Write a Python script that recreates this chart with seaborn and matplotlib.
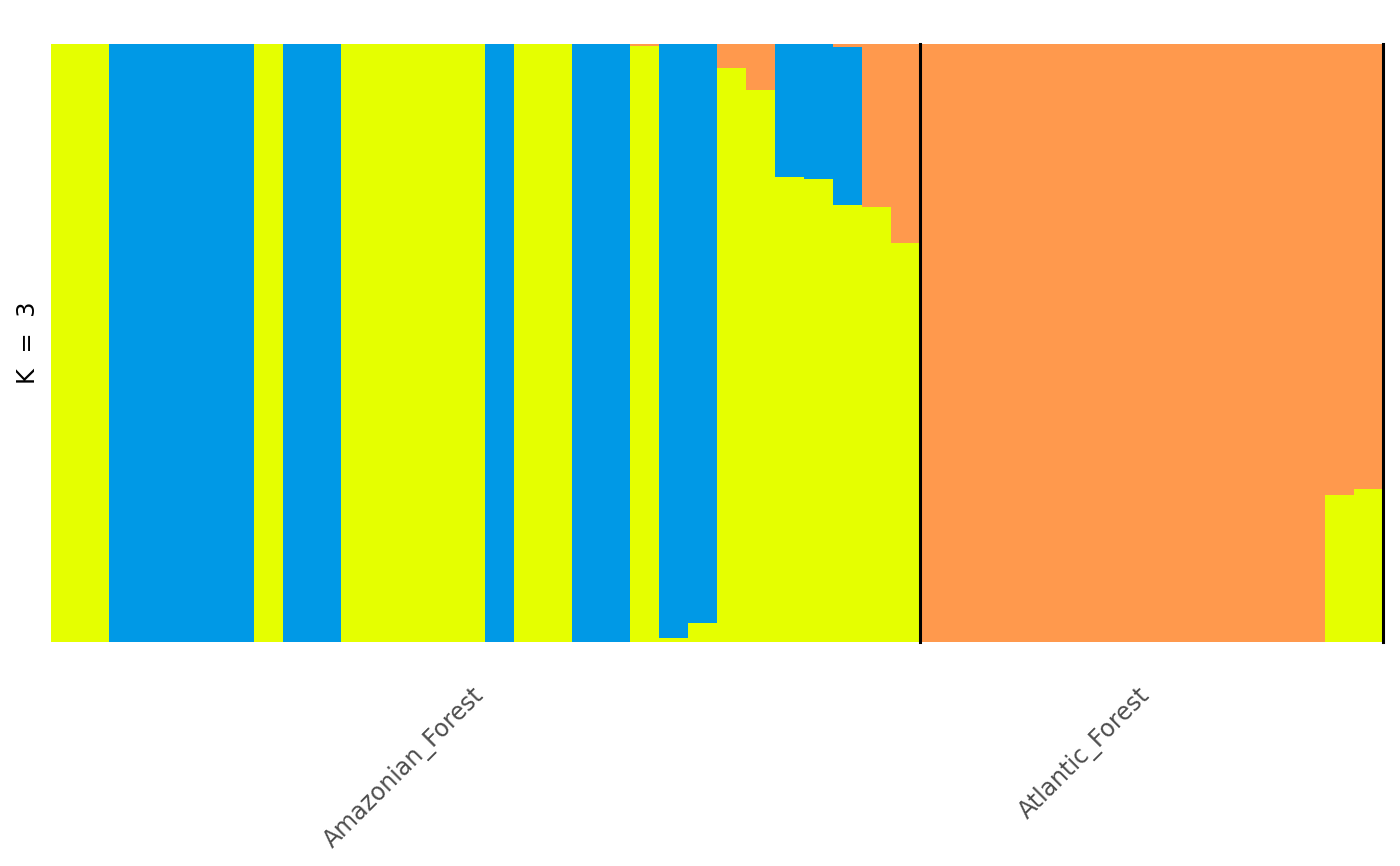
import numpy as np
import pandas as pd
import matplotlib
matplotlib.use('Agg')
import matplotlib.pyplot as plt
import matplotlib.transforms as mtransforms
import seaborn as sns

# admixture proportions per individual (K = 3)
groups = ['Amazonian_Forest'] * 30 + ['Atlantic_Forest'] * 16

yellow_q = [1, 1, 0, 0, 0, 0, 0, 1, 0, 0,
            1, 1, 1, 1, 1, 0, 1, 1, 0, 0,
            0.997, 0.007, 0.032, 0.96, 0.923, 0.777, 0.774, 0.731, 0.727, 0.668,
            0, 0, 0, 0, 0, 0, 0, 0, 0, 0,
            0, 0, 0, 0, 0.246, 0.256]
blue_q = [0, 0, 1, 1, 1, 1, 1, 0, 1, 1,
          0, 0, 0, 0, 0, 1, 0, 0, 1, 1,
          0, 0.993, 0.968, 0, 0, 0.223, 0.226, 0.264, 0, 0,
          0, 0, 0, 0, 0, 0, 0, 0, 0, 0,
          0, 0, 0, 0, 0, 0]
orange_q = [0, 0, 0, 0, 0, 0, 0, 0, 0, 0,
            0, 0, 0, 0, 0, 0, 0, 0, 0, 0,
            0.003, 0, 0, 0.04, 0.077, 0, 0, 0.005, 0.273, 0.332,
            1, 1, 1, 1, 1, 1, 1, 1, 1, 1,
            1, 1, 1, 1, 0.754, 0.744]

cluster_names = ['V1', 'V2', 'V3']
palette = {'V1': '#E5FF00', 'V2': '#0099E6', 'V3': '#FF994D'}

n = len(groups)
df = pd.DataFrame({'ind': np.arange(n), 'V1': yellow_q, 'V2': blue_q, 'V3': orange_q})
long = df.melt(id_vars='ind', var_name='cluster', value_name='q')

fig, ax = plt.subplots(figsize=(14, 8.66), dpi=100)
fig.subplots_adjust(left=51/1400, right=1383/1400, top=1-44/866, bottom=1-642/866)

# stacked so that orange sits on top, blue in the middle, yellow at the bottom
sns.histplot(data=long, x='ind', weights='q', hue='cluster',
             hue_order=cluster_names[::-1], palette=palette,
             multiple='stack', discrete=True, shrink=1,
             linewidth=0, alpha=1, legend=False, ax=ax)

ax.set_xlim(-0.5, n - 0.5)
ax.set_ylim(0, 1)

# group separators and labels
grp = pd.Series(groups)
sizes = grp.groupby(grp, sort=False).size()
ends = sizes.cumsum()
starts = ends - sizes
for e in ends:
    ax.axvline(e - 0.5, color='black', lw=2.2, clip_on=False)
centers = (starts + ends) / 2 - 0.5
ax.set_xticks(centers.values)
ax.set_xticklabels(centers.index, rotation=45, ha='right', va='center',
                   rotation_mode='anchor', fontsize=17, color='#4D4D4D')
ax.tick_params(axis='x', length=0, pad=36)
shift = mtransforms.ScaledTranslation(-5/100, 0, fig.dpi_scale_trans)
for lab in ax.get_xticklabels():
    lab.set_transform(lab.get_transform() + shift)
ax.set_yticks([])
ax.set_xlabel('')
ax.set_ylabel('K  =  3', fontsize=17.5, labelpad=8)
for s in ax.spines.values():
    s.set_visible(False)

fig.savefig('out.png', dpi=100)
